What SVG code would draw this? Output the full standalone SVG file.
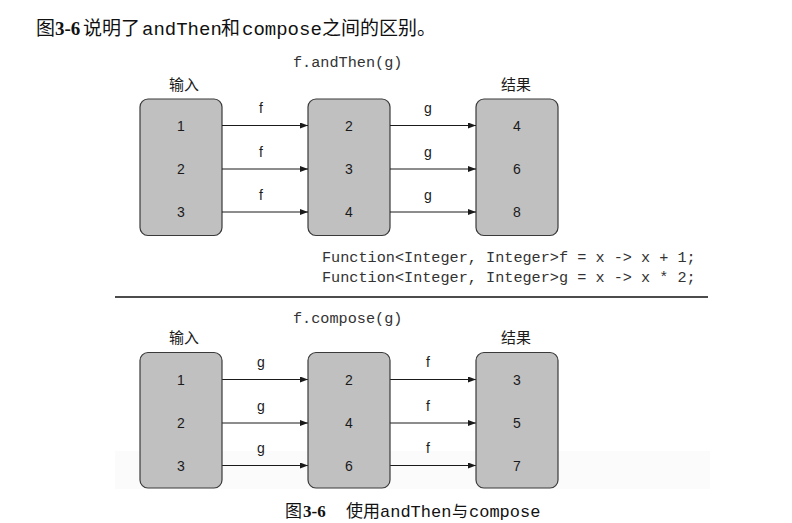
<svg xmlns="http://www.w3.org/2000/svg" width="792" height="523" viewBox="0 0 792 523">
<style>
.box{fill:#c0c0c0;stroke:#3a3a3a;stroke-width:1.2}
.num{font-family:"Liberation Sans",Arial,sans-serif;font-size:14px;fill:#1a1a1a;text-anchor:middle}
.lbl{font-family:"Liberation Sans",Arial,sans-serif;font-size:14px;fill:#1a1a1a;text-anchor:middle}
.cjk{font-family:"Noto Sans CJK SC",sans-serif;font-size:15px;fill:#1a1a1a;text-anchor:middle}
.code{font-family:"Liberation Mono","Courier New",monospace;font-size:15.2px;fill:#333}
.cap{font-family:"Liberation Serif","Noto Sans CJK SC",serif;fill:#111}
.mono{font-family:"Liberation Mono","Courier New",monospace}
.arr{stroke:#1a1a1a;stroke-width:1;fill:none;marker-end:url(#ah)}
</style>
<defs>
<marker id="ah" viewBox="0 0 8 6" refX="8" refY="3" markerWidth="8" markerHeight="6" markerUnits="userSpaceOnUse" orient="auto">
<path d="M0,0 L8,3 L0,6 Z" fill="#1a1a1a"/>
</marker>
</defs>
<rect width="792" height="523" fill="#ffffff"/>
<rect x="115" y="451" width="595" height="38" fill="#fbfbfb"/>

<text class="cap" y="35" font-size="19"><tspan x="36" font-family="Noto Sans CJK SC,sans-serif">图</tspan><tspan x="55" font-weight="bold">3-6</tspan><tspan x="83" font-family="Noto Sans CJK SC,sans-serif">说明了</tspan><tspan x="142" class="mono">andThen</tspan><tspan x="221" font-family="Noto Sans CJK SC,sans-serif">和</tspan><tspan x="242" class="mono">compose</tspan><tspan x="322" font-family="Noto Sans CJK SC,sans-serif">之间的区别。</tspan></text>

<text class="code" x="293" y="67">f.andThen(g)</text>
<text class="cjk" x="184" y="90">输入</text>
<text class="cjk" x="516" y="90">结果</text>

<g id="top-input"><rect class="box" x="140" y="99" width="82" height="136.5" rx="8"/>
<text class="num" x="181" y="130.5">1</text><text class="num" x="181" y="174">2</text><text class="num" x="181" y="217">3</text></g>
<g id="top-mid"><rect class="box" x="308" y="99" width="82" height="136.5" rx="8"/>
<text class="num" x="349" y="130.5">2</text><text class="num" x="349" y="174">3</text><text class="num" x="349" y="217">4</text></g>
<g id="top-result"><rect class="box" x="476" y="99" width="82" height="136.5" rx="8"/>
<text class="num" x="517" y="130.5">4</text><text class="num" x="517" y="174">6</text><text class="num" x="517" y="217">8</text></g>

<g id="connectors">
<line class="arr" x1="222" y1="125.5" x2="308" y2="125.5"/>
<line class="arr" x1="222" y1="169" x2="308" y2="169"/>
<line class="arr" x1="222" y1="212" x2="308" y2="212"/>
<line class="arr" x1="390" y1="125.5" x2="476" y2="125.5"/>
<line class="arr" x1="390" y1="169" x2="476" y2="169"/>
<line class="arr" x1="390" y1="212" x2="476" y2="212"/>
<line class="arr" x1="222" y1="379.5" x2="308" y2="379.5"/>
<line class="arr" x1="222" y1="423" x2="308" y2="423"/>
<line class="arr" x1="222" y1="465.5" x2="308" y2="465.5"/>
<line class="arr" x1="390" y1="379.5" x2="476" y2="379.5"/>
<line class="arr" x1="390" y1="423" x2="476" y2="423"/>
<line class="arr" x1="390" y1="465.5" x2="476" y2="465.5"/>
<text class="lbl" x="261" y="113">f</text><text class="lbl" x="261" y="157">f</text><text class="lbl" x="261" y="200">f</text>
<text class="lbl" x="428" y="113">g</text><text class="lbl" x="428" y="157">g</text><text class="lbl" x="428" y="200">g</text>
<text class="lbl" x="261" y="367">g</text><text class="lbl" x="261" y="411">g</text><text class="lbl" x="261" y="453">g</text>
<text class="lbl" x="428" y="367">f</text><text class="lbl" x="428" y="411">f</text><text class="lbl" x="428" y="453">f</text>
</g>

<text class="code" x="322" y="262">Function&lt;Integer, Integer&gt;f = x -&gt; x + 1;</text>
<text class="code" x="322" y="282">Function&lt;Integer, Integer&gt;g = x -&gt; x * 2;</text>
<line x1="115" y1="297" x2="708" y2="297" stroke="#111" stroke-width="1.3"/>

<text class="code" x="293" y="323">f.compose(g)</text>
<text class="cjk" x="184" y="343">输入</text>
<text class="cjk" x="516" y="343">结果</text>

<g id="bot-input"><rect class="box" x="140" y="352.5" width="82" height="135.5" rx="8"/>
<text class="num" x="181" y="384.5">1</text><text class="num" x="181" y="428">2</text><text class="num" x="181" y="470.5">3</text></g>
<g id="bot-mid"><rect class="box" x="308" y="352.5" width="82" height="135.5" rx="8"/>
<text class="num" x="349" y="384.5">2</text><text class="num" x="349" y="428">4</text><text class="num" x="349" y="470.5">6</text></g>
<g id="bot-result"><rect class="box" x="476" y="352.5" width="82" height="135.5" rx="8"/>
<text class="num" x="517" y="384.5">3</text><text class="num" x="517" y="428">5</text><text class="num" x="517" y="470.5">7</text></g>

<text class="cap" y="517" font-size="17"><tspan x="285" font-family="Noto Sans CJK SC,sans-serif">图</tspan><tspan x="303" font-weight="bold">3-6</tspan><tspan x="346" font-family="Noto Sans CJK SC,sans-serif">使用</tspan><tspan x="380" class="mono">andThen</tspan><tspan x="452" font-family="Noto Sans CJK SC,sans-serif" font-size="16">与</tspan><tspan x="469" class="mono">compose</tspan></text>
</svg>
